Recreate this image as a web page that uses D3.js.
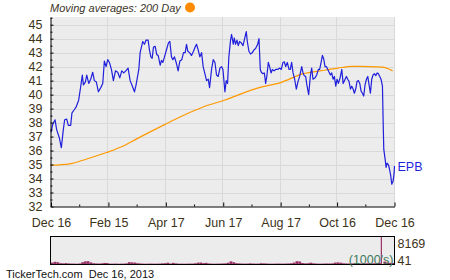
<!DOCTYPE html>
<html>
<head>
<meta charset="utf-8">
<script src="https://cdn.jsdelivr.net/npm/d3@7"></script>
<style>
  html, body { margin: 0; padding: 0; background: #fff; }
  #chart { width: 450px; height: 280px; }
  text { font-family: "Liberation Sans", Arial, sans-serif; }
</style>
</head>
<body>
<div id="chart"></div>
<script>
// Price data: trading day position (days after Dec 16, 2012) and close
const priceDays = [
  0, 1.8, 4.3, 6.0, 8.9, 11.0, 13.1, 14.5, 16.7, 18.4, 20.9, 22.3, 24.5, 26.6, 29.4, 31.6,
  33.3, 34.4, 36.5, 38.0, 40.1, 42.2, 44.3, 46.1, 48.2, 50.4, 52.9, 55.0, 56.7, 58.5, 60.3,
  62.1, 64.2, 66.3, 68.5, 70.9, 73.1, 75.2, 77.3, 79.5, 81.9, 84.1, 86.5, 88.7, 90.4,
  93.3, 94.7, 97.5, 99.3, 101.1, 103.2, 104.6, 106.1, 107.5, 108.9, 110.7, 112.4, 113.9,
  116.0, 117.4, 118.8, 120.6, 123.1, 124.8, 126.3, 128.0, 129.5, 131.2, 133.0, 135.1,
  136.9, 139.0, 140.8, 142.6, 144.0, 145.4, 147.2, 149.3, 151.4, 153.2, 154.6, 156.4,
  158.2, 160.0, 161.7, 163.5, 165.3, 167.1, 168.5, 170.6, 172.4, 174.2, 175.9, 177.7,
  179.5, 181.3, 182.7,
  184.8, 186.2, 187.6, 189.0, 190.8, 191.9, 193.7, 194.7, 196.1, 197.6, 199.0, 200.4,
  202.2, 204.0, 205.4, 207.5, 208.6, 210.3, 212.1, 213.9, 215.7, 217.4, 219.6, 221.0,
  222.4, 223.5, 224.9, 226.7, 228.1, 229.5, 230.9, 232.3, 233.8, 235.2, 237.0, 238.7,
  240.9, 243.0, 244.7, 246.5, 247.9, 249.4, 251.1, 252.9, 254.3, 255.7, 257.2, 258.9,
  260.7, 262.5, 264.2, 266.4, 267.8, 269.2, 270.6, 272.1, 273.8, 275.6,
  277.0, 278.4, 280.6, 282.3, 284.1, 285.5, 287.0, 288.4, 289.8, 291.2, 292.7, 294.1,
  295.5, 296.9, 298.3, 299.7, 301.1, 302.6, 304.0, 305.4, 307.2, 309.0, 310.4, 311.8,
  313.9, 315.3, 316.7, 318.2, 319.6, 321.0, 322.4, 323.8, 325.2, 326.7, 328.1, 329.5,
  330.9, 332.3, 333.7, 335.2, 336.6, 338.0, 339.4, 340.8, 342.2, 343.7, 345.1, 346.5,
  347.9, 349.3, 350.7, 352.2, 352.9, 353.6, 355.0, 356.1, 357.1, 358.5, 359.6, 361.0,
  362.1, 363.5, 364.6, 365.0
];
const prices = [
  37.3, 37.86, 38.2, 37.5, 36.9, 36.2, 37.5, 38.2, 38.25, 37.8, 37.8, 38.7, 38.9, 39.1, 39.6, 40.6,
  41.4, 40.7, 40.9, 41.4, 40.8, 41.1, 41.6, 41.0, 40.9, 40.2, 40.5, 40.8, 42.4, 42.0, 42.5,
  42.3, 41.8, 41.0, 41.7, 41.6, 41.2, 41.7, 41.55, 41.7, 41.9, 41.0, 40.6, 40.2, 40.7,
  41.8, 43.0, 43.8, 43.6, 43.9, 43.9, 43.2, 42.7, 42.6, 43.4, 43.45, 42.86, 42.8,
  42.1, 42.45, 42.3, 42.7, 43.3, 43.7, 43.8, 42.7, 42.5, 42.7, 42.3, 41.7,
  42.4, 42.5, 43.0, 43.0, 43.6, 43.1, 43.0, 42.8, 43.1, 43.4, 43.6, 43.2,
  42.7, 43.0, 42.0, 41.5, 41.0, 41.1, 40.5, 41.8, 42.5, 42.3, 41.4, 41.3,
  41.9, 42.0, 41.8,
  40.2, 41.0, 40.8, 42.7, 43.9, 44.3, 43.6, 44.05, 43.6, 43.9, 43.5, 43.8,
  43.7, 43.5, 43.9, 44.5, 43.8, 43.1, 42.9, 43.0, 43.2, 43.3, 43.6, 44.0,
  41.8, 41.6, 41.5, 41.55, 40.8, 41.4, 42.3, 42.0, 41.55, 41.8, 41.7, 41.8,
  41.8, 41.9, 41.8, 42.3, 42.35, 42.0, 42.3, 41.8, 41.8, 42.3, 41.55, 41.1,
  40.4, 40.95, 41.3, 42.0, 41.55, 41.35, 41.3, 40.6, 40.0, 41.35,
  41.9, 41.1, 41.2, 41.4, 41.8, 41.8, 42.3, 42.8, 42.55, 42.0, 42.0, 41.8,
  41.6, 41.4, 41.55, 41.1, 41.3, 40.6, 41.1, 40.8, 41.2, 41.8, 40.8, 41.0,
  41.3, 41.1, 40.95, 40.4, 40.6, 40.4, 40.1, 40.4, 40.95, 41.0, 40.8, 40.25,
  40.1, 39.9, 40.7, 41.1, 41.3, 40.7, 40.1, 41.1, 41.4, 41.5, 41.35, 41.55,
  41.5, 41.3, 41.1, 40.6, 38.2, 36.1, 35.4, 34.8, 35.1, 35.0, 34.7, 34.2,
  33.6, 33.8, 34.4, 34.9
];

// 200 day moving average
const maDays = [0, 20, 38, 59, 79, 90, 122, 137, 161, 184, 221, 244, 267, 292, 305, 320, 327, 352, 363];
const maValues = [34.95, 35.05, 35.4, 35.86, 36.4, 36.8, 37.9, 38.4, 39.1, 39.6, 40.5, 40.86, 41.48, 41.76, 41.9, 42.02, 42.02, 41.96, 41.7];

// Volume (1000's), one bar per ~2 trading days
const volumes = [
  600, 820, 700, 420, 380, 450, 360, 320, 300, 280, 350, 700, 950, 1000, 650, 420,
  350, 330, 380, 500, 460, 300, 290, 320, 280, 300, 310, 380, 720, 650, 600, 420,
  350, 300, 280, 300, 320, 290, 300, 310, 380, 420, 560, 330, 520, 380, 300, 290,
  280, 300, 320, 310, 400, 580, 620, 450, 520, 350, 300, 280, 300, 320, 350, 380,
  560, 950, 700, 420, 360, 330, 300, 320, 380, 330, 300, 310, 420, 380, 330, 300,
  280, 300, 320, 310, 300, 330, 350, 400, 600, 1000, 900, 480, 380, 420, 560, 400,
  330, 300, 300, 320, 350, 330, 380, 600, 650, 560, 400, 350, 330, 360, 400, 380,
  350, 400, 380, 420, 380, 400, 450, 500, 8169, 900, 600, 520, 480
];
const volumeLabels = ['8169', '41'];

const yTicks = [32, 33, 34, 35, 36, 37, 38, 39, 40, 41, 42, 43, 44, 45];
const yMinorTicks = [32.5, 33.5, 34.5, 35.5, 36.5, 37.5, 38.5, 39.5, 40.5, 41.5, 42.5, 43.5, 44.5, 45.5];
const xTickDates = ['2012-12-16', '2013-02-15', '2013-04-17', '2013-06-17', '2013-08-17', '2013-10-16', '2013-12-16'];
const xMinorDates = ['2013-01-15', '2013-03-17', '2013-05-17', '2013-07-17', '2013-09-16', '2013-11-15'];

const symbol = 'EPB';
const titleText = 'Moving averages: 200 Day';
const footerText = 'TickerTech.com\u00a0\u00a0Dec 16, 2013';

// Layout
const width = 450, height = 280;
const plot = {left: 51, right: 394.5, top: 17, bottom: 206.5};
const vol = {top: 236.5, bottom: 264.5};
const textColor = '#3d3318';

const parse = d3.utcParse('%Y-%m-%d');
const startDate = parse('2012-12-16');
const endDate = parse('2013-12-16');
const dayToDate = d => new Date(startDate.getTime() + d * 864e5);

const svg = d3.select('#chart')
  .append('svg')
  .attr('width', width)
  .attr('height', height);

const x = d3.scaleUtc()
  .domain([startDate, endDate])
  .range([plot.left, plot.right]);

const y = d3.scaleLinear()
  .domain([32, 45.55])
  .range([plot.bottom, plot.top]);

// Plot background
svg.append('rect')
  .attr('x', plot.left).attr('y', plot.top)
  .attr('width', plot.right - plot.left).attr('height', plot.bottom - plot.top)
  .attr('fill', '#ececec');

// Grid
svg.append('g')
  .selectAll('line')
  .data(yTicks.slice(1))
  .join('line')
  .attr('x1', plot.left).attr('x2', plot.right)
  .attr('y1', d => Math.round(y(d)) + 0.5).attr('y2', d => Math.round(y(d)) + 0.5)
  .attr('stroke', '#d9d9d9');

svg.append('g')
  .selectAll('line')
  .data(xTickDates.slice(1).map(parse))
  .join('line')
  .attr('x1', d => Math.round(x(d)) - 0.5).attr('x2', d => Math.round(x(d)) - 0.5)
  .attr('y1', plot.top).attr('y2', plot.bottom)
  .attr('stroke', '#d9d9d9');

// Moving average
const maLine = d3.line()
  .x((d, i) => x(dayToDate(maDays[i])))
  .y(d => y(d))
  .curve(d3.curveMonotoneX);

svg.append('path')
  .datum(maValues)
  .attr('d', maLine)
  .attr('fill', 'none')
  .attr('stroke', '#ff9900')
  .attr('stroke-width', 1.2);

// Price line
const priceLine = d3.line()
  .x((d, i) => x(dayToDate(priceDays[i])))
  .y(d => y(d));

svg.append('path')
  .datum(prices)
  .attr('d', priceLine)
  .attr('fill', 'none')
  .attr('stroke', '#1f1fdc')
  .attr('stroke-width', 1.2)
  .attr('stroke-linejoin', 'round');

// Axes
const yAxis = svg.append('g')
  .attr('transform', `translate(${plot.left - 0.5},0)`)
  .call(d3.axisLeft(y).tickValues(yTicks).tickSize(-3).tickSizeOuter(0).tickPadding(8));

svg.append('g')
  .attr('transform', `translate(${plot.left - 0.5},0)`)
  .call(d3.axisLeft(y).tickValues(yMinorTicks.filter(d => d < 45.55)).tickSize(-2).tickFormat(''))
  .call(g => g.select('.domain').remove());

const xAxis = svg.append('g')
  .attr('transform', `translate(0,${plot.bottom})`)
  .call(d3.axisBottom(x)
    .tickValues(xTickDates.map(parse))
    .tickFormat(d3.utcFormat('%b %d'))
    .tickSize(-4).tickSizeOuter(0).tickPadding(12));

svg.append('g')
  .attr('transform', `translate(0,${plot.bottom})`)
  .call(d3.axisBottom(x).tickValues(xMinorDates.map(parse)).tickSize(-2).tickFormat(''))
  .call(g => g.select('.domain').remove());

svg.selectAll('.tick line').attr('stroke', '#000');
svg.selectAll('.domain').attr('stroke', '#000');
[yAxis, xAxis].forEach(g => g.selectAll('text')
  .attr('fill', textColor)
  .style('font-size', '12.5px'));

// Symbol label
svg.append('text')
  .attr('x', plot.right + 3)
  .attr('y', y(prices[prices.length - 1]) + 0.5)
  .attr('dy', '0.35em')
  .attr('fill', '#1f1fdc')
  .style('font-size', '12.5px')
  .text(symbol);

// Title
svg.append('text')
  .attr('x', 50).attr('y', 12)
  .attr('fill', '#3a3428')
  .style('font-size', '11px')
  .style('font-style', 'italic')
  .text(titleText);

svg.append('circle')
  .attr('cx', 190).attr('cy', 7.5).attr('r', 5)
  .attr('fill', '#ff8c00');

// Volume panel
const xv = d3.scaleBand()
  .domain(d3.range(volumes.length))
  .range([plot.left, plot.right]);

const yv = d3.scaleLinear()
  .domain([41, 8169])
  .range([vol.bottom, vol.top]);

svg.append('rect')
  .attr('x', plot.left - 0.5).attr('y', vol.top)
  .attr('width', plot.right - plot.left + 0.5).attr('height', vol.bottom - vol.top)
  .attr('fill', '#ececec');

svg.append('g')
  .selectAll('rect')
  .data(volumes)
  .join('rect')
  .attr('x', (d, i) => xv(i))
  .attr('width', (d, i) => d > 5000 ? 1.2 : xv.bandwidth())
  .attr('y', d => yv(d))
  .attr('height', d => vol.bottom - yv(d) + 0.3)
  .attr('fill', '#993366');

svg.append('rect')
  .attr('x', plot.left - 0.5).attr('y', vol.top)
  .attr('width', plot.right - plot.left + 0.5).attr('height', vol.bottom - vol.top)
  .attr('fill', 'none')
  .attr('stroke', '#000');

svg.append('text')
  .attr('x', plot.right - 1).attr('y', vol.bottom - 1)
  .attr('text-anchor', 'end')
  .attr('fill', '#3f7a5c')
  .style('font-size', '12.5px')
  .text("(1000's)");

svg.append('g')
  .selectAll('text')
  .data(volumeLabels)
  .join('text')
  .attr('x', plot.right + 3)
  .attr('y', (d, i) => i === 0 ? 244 : 261)
  .attr('dy', '0.35em')
  .attr('fill', textColor)
  .style('font-size', '12.5px')
  .text(d => d);

// Footer
svg.append('text')
  .attr('x', 6).attr('y', 278)
  .attr('fill', '#111')
  .style('font-size', '11px')
  .text(footerText);
</script>
</body>
</html>
